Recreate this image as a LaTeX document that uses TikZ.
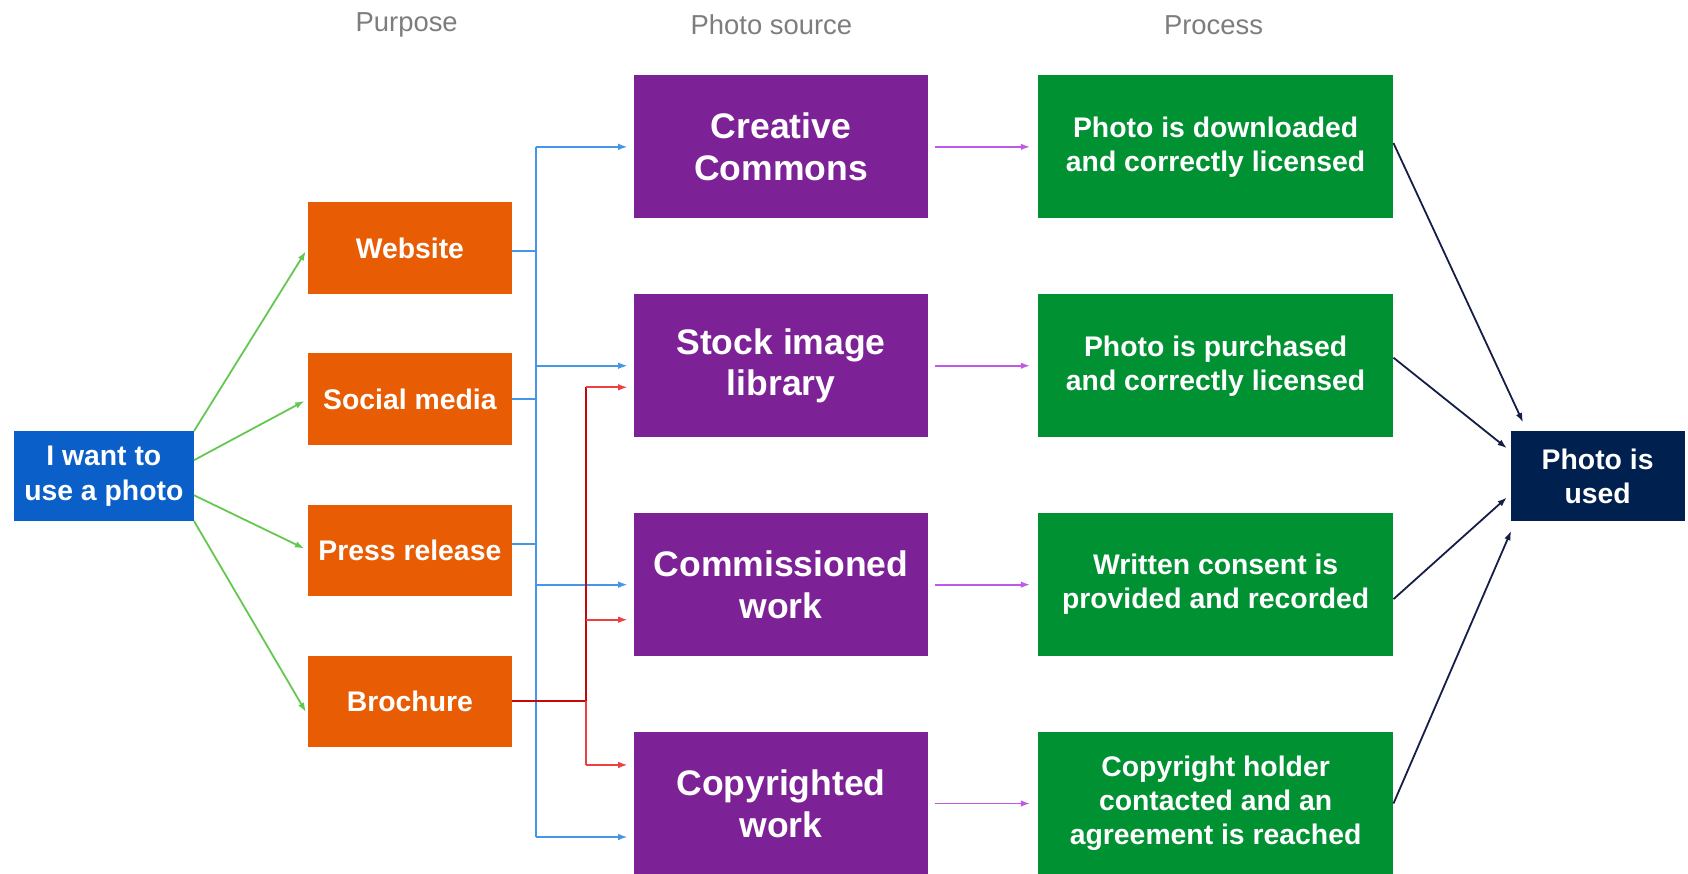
\documentclass[tikz,border=0pt]{standalone}
\usepackage{fontspec}
\setmainfont{Liberation Sans}
\usepackage{tikz}
\usetikzlibrary{arrows.meta}
\usetikzlibrary{positioning}

\definecolor{startblue}{RGB}{10,95,200}
\definecolor{purposeorange}{RGB}{232,93,4}
\definecolor{sourcepurple}{RGB}{125,33,150}
\definecolor{processgreen}{RGB}{0,145,50}
\definecolor{usednavy}{RGB}{0,32,80}
\definecolor{headgray}{RGB}{125,125,125}
\definecolor{linegreen}{RGB}{100,200,80}
\definecolor{lineblue}{RGB}{70,150,230}
\definecolor{linedarkred}{RGB}{195,10,10}
\definecolor{linered}{RGB}{235,65,65}
\definecolor{lineviolet}{RGB}{190,90,230}
\definecolor{linenavy}{RGB}{20,30,70}

\begin{document}
\begin{tikzpicture}[x=0.02cm, y=-0.02cm,
      box/.style={rectangle, inner sep=0pt, align=center, text=white,
                  font=\bfseries\fontsize{15}{18}\selectfont},
      startbox/.style={box, fill=startblue, minimum width=3.34cm, minimum height=1.66cm,
                       font=\bfseries\fontsize{15}{18.5}\selectfont},
      purpose/.style={box, fill=purposeorange, minimum width=3.78cm, minimum height=1.7cm},
      source/.style={box, fill=sourcepurple, minimum width=5.48cm, minimum height=2.66cm,
                     font=\bfseries\fontsize{18.8}{22}\selectfont},
      process/.style={box, fill=processgreen, minimum width=6.6cm, minimum height=2.66cm},
      usedbox/.style={box, fill=usednavy, minimum width=3.24cm, minimum height=1.66cm},
      header/.style={text=headgray, font=\fontsize{14.5}{17}\selectfont},
      tip/.style={-{Latex[length=5pt,width=3.5pt]}, line width=0.95pt},
      link/.style={line width=0.95pt}]

      \useasboundingbox (0,0) rectangle (1569,812);
      \clip (0,0) rectangle (1569,812);

      % column headers
      \node[header] (hpurpose) at (378,23) {Purpose};
      \node[header] (hsource) at (717,23) {Photo source};
      \node[header] (hprocess) at (1128,23) {Process};

      \node[startbox] (want) at (96.5,442.5) {I want to\\use a photo};

      \node[purpose] (web) at (381,230.5) {Website};
      \node[purpose, below of=web, node distance=2.81cm] (social) {Social media};
      \node[purpose, below of=social, node distance=2.81cm] (press) {Press release};
      \node[purpose, below of=press, node distance=2.81cm] (bro) {Brochure};

      \node[source] (cc) at (726,136.5) {Creative\\Commons};
      \node[source, below of=cc, node distance=4.07cm] (stock) {Stock image\\library};
      \node[source, below of=stock, node distance=4.07cm] (comm) {Commissioned\\work};
      \node[source, below of=comm, node distance=4.07cm] (copy) {Copyrighted\\work};

      \node[process, right of=cc, node distance=8.08cm] (dl) {Photo is downloaded\\and correctly licensed};
      \node[process, right of=stock, node distance=8.08cm] (buy) {Photo is purchased\\and correctly licensed};
      \node[process, right of=comm, node distance=8.08cm] (consent) {Written consent is\\provided and recorded};
      \node[process, right of=copy, node distance=8.08cm] (reach) {Copyright holder\\contacted and an\\agreement is reached};

      \node[usedbox] (used) at (1485,442.5) {Photo is\\used};

      % purpose
      \path[tip, linegreen, shorten >=2pt]
            (want.north east) edge (web.west)
            (want.10) edge (social.west)
            (want.-12) edge (press.west)
            (want.south east) edge ([yshift=-0.26cm]bro.west);

      % blue trunk
      \coordinate (btop) at (498,136.5);
      \coordinate (bbot) at (498,778);
      \draw[link, lineblue] ([yshift=-0.05cm]web.east) -- ([yshift=-0.05cm]web.east -| btop);
      \draw[link, lineblue] (social.east) -- (social.east -| btop);
      \draw[link, lineblue] ([yshift=0.12cm]press.east) -- ([yshift=0.12cm]press.east -| btop);
      \draw[link, lineblue] (btop) -- (bbot);
      \path[tip, lineblue, shorten >=3pt]
            (btop) edge (cc.west)
            (stock.west -| btop) edge (stock.west)
            (comm.west -| btop) edge (comm.west)
            (bbot) edge (bbot -| copy.west);

      % red trunk
      \coordinate (rtop) at (545,360);
      \coordinate (rmid) at (545,576);
      \coordinate (rbot) at (545,711);
      \draw[link, linedarkred] (bro.east) -- (bro.east -| rtop) -- (rtop);
      \draw[link, linered] (bro.east -| rtop) -- (rbot);
      \path[tip, linered, shorten >=3pt]
            (rtop) edge (rtop -| stock.west)
            (rmid) edge (rmid -| comm.west)
            (rbot) edge (rbot -| copy.west);

      % process
      \path[tip, lineviolet, shorten <=3.4pt, shorten >=4pt]
            (cc) edge (dl)
            (stock) edge (buy)
            (comm) edge (consent)
            (copy) edge (reach);

      % result
      \path[tip, linenavy]
            ([yshift=0.07cm]dl.east) edge ([shift={(12,-8)}]used.north west)
            ([yshift=0.15cm]buy.east) edge ([shift={(-3,16)}]used.north west)
            ([yshift=-0.27cm]consent.east) edge ([shift={(-3,-22)}]used.south west)
            (reach.east) edge ([shift={(1,9)}]used.south west);
\end{tikzpicture}
\end{document}
